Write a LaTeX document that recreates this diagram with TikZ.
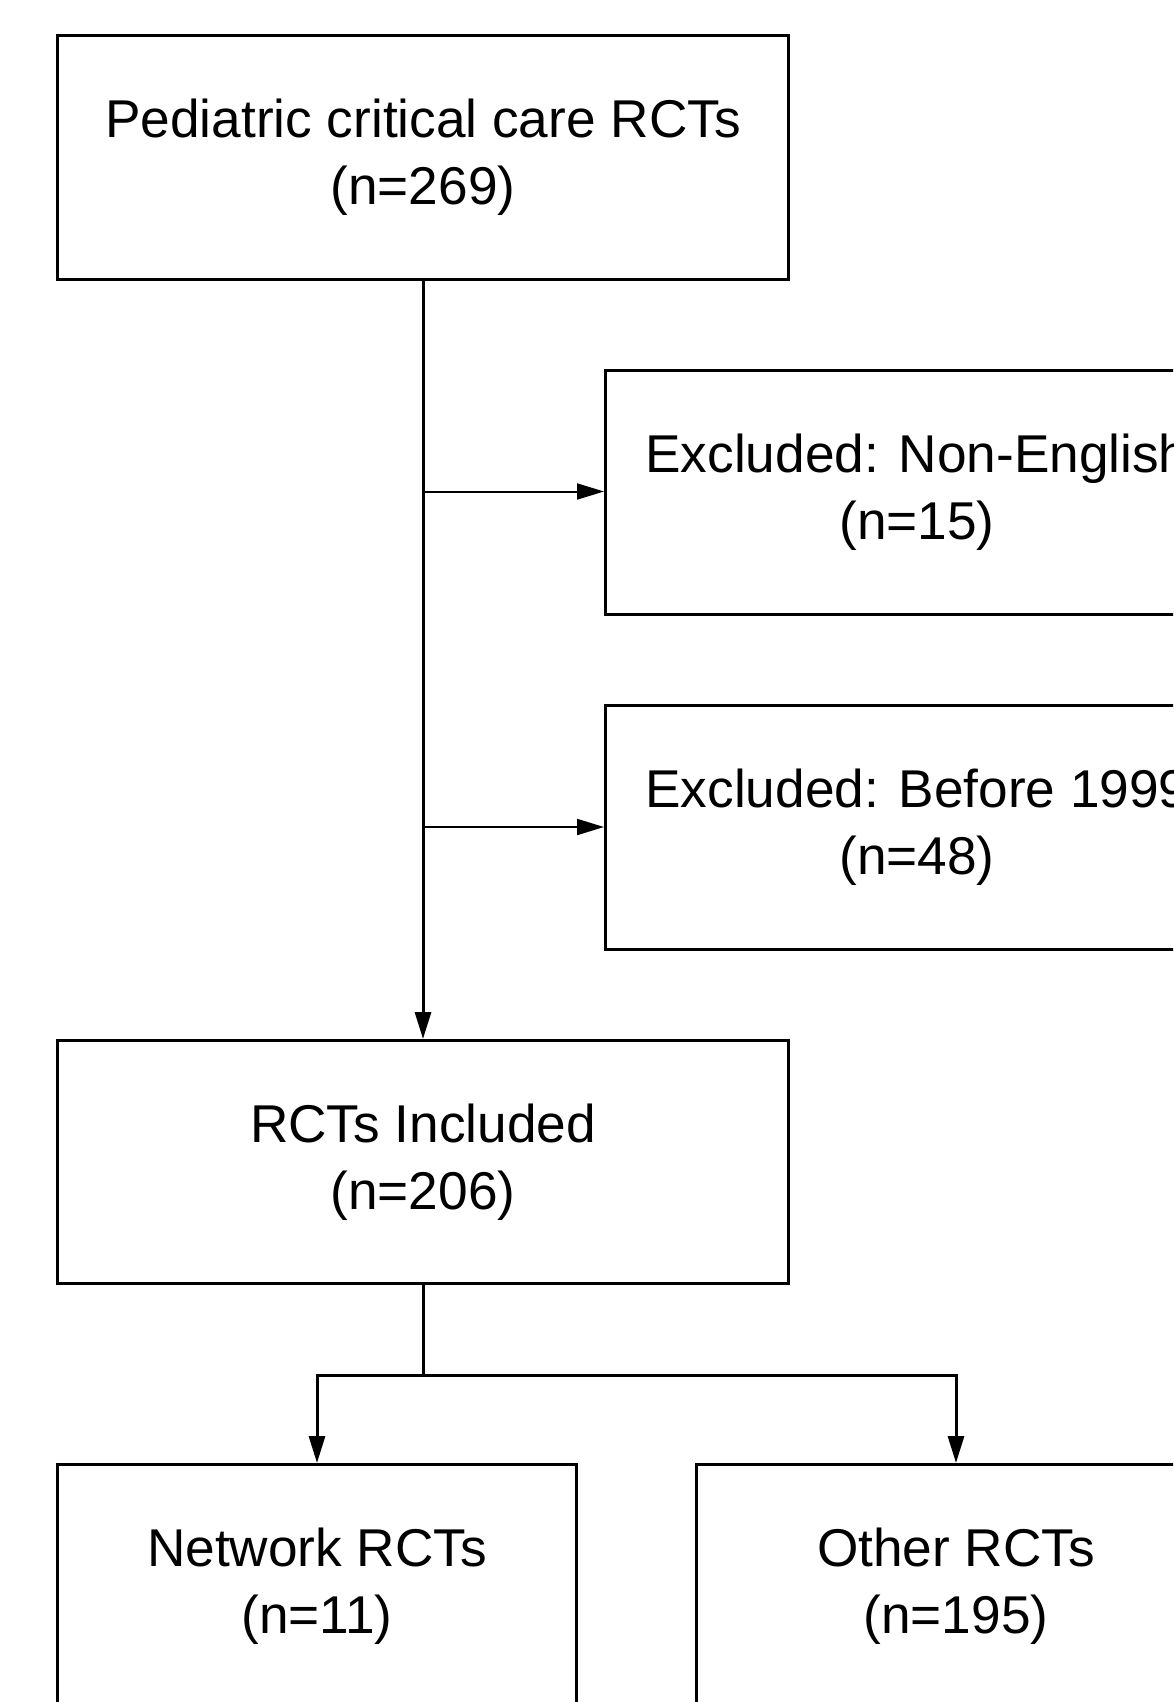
\documentclass[tikz,border=0pt]{standalone}
\usepackage{fontspec}
\setmainfont{Liberation Sans}
\usetikzlibrary{positioning,arrows.meta}

\tikzset{
	box/.style={draw,line width=1.5pt,align=center,inner sep=0pt,
		font=\fontsize{26.6}{33.5}\selectfont},
	widebox/.style={box,minimum width=365.75pt,minimum height=121.5pt},
	exclbox/.style={box,minimum width=311.5pt,minimum height=122pt},
	splitbox/.style={box,minimum width=259.25pt,minimum height=122pt},
	arr/.style={-{Triangle[length=13.5pt,width=8pt]}}
}

\begin{document}
\begin{tikzpicture}[x=0.5pt,y=-0.5pt]
	\useasboundingbox (0,0) rectangle (1173,1702);
	\clip (0,0) rectangle (1173,1702);

	\node[widebox] (top) at (423,157.5) {Pediatric critical care RCTs\\(n=269)};
	\node[exclbox] (exa) at (917,492) {Excluded: Non-English\\(n=15)};
	\node[exclbox] (exb) at (917,827) {Excluded: Before 1999\\(n=48)};
	\node[widebox] (incl) at (423,1162) {RCTs Included\\(n=206)};
	\node[splitbox] (net) at (317,1586.5) {Network RCTs\\(n=11)};
	\node[splitbox] (oth) at (956,1586.5) {Other RCTs\\(n=195)};

	\coordinate (ba) at (423,491.5);
	\coordinate (bb) at (423,827);
	\coordinate (split) at (423,1375);

	% main flow
	\path[arr,line width=1.5pt]
	(top) edge (incl);
	\path[arr,line width=1pt]
	(ba) edge (ba -| exa.west)
	(bb) edge (bb -| exb.west);
	\draw[line width=1.5pt] (incl) -- (split);
	\draw[arr,line width=1.5pt] (split) -| (net.north);
	\draw[arr,line width=1.5pt] (split) -| (oth.north);
\end{tikzpicture}
\end{document}
